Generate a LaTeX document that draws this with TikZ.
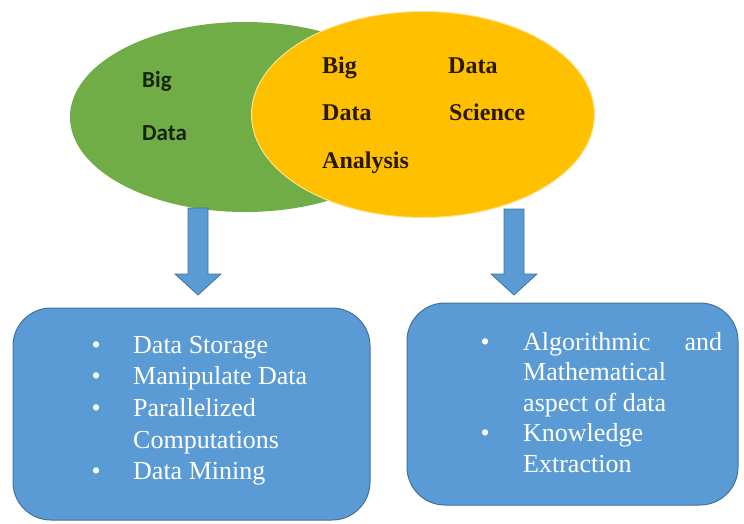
\documentclass[tikz,border=0pt]{standalone}
\usepackage{fontspec}
\setmainfont{Liberation Serif}
\newfontfamily\calibrifont{Carlito}
\usetikzlibrary{shapes.geometric,calc}

\definecolor{vgreen}{RGB}{112,173,71}
\definecolor{vorange}{RGB}{255,192,0}
\definecolor{orangerim}{RGB}{255,226,140}
\definecolor{panelblue}{RGB}{91,155,213}
\definecolor{edgeblue}{RGB}{65,113,156}
\definecolor{gink}{RGB}{22,36,12}
\definecolor{oink}{RGB}{40,24,4}

% block arrow pointing down, from tail (#1) to tip (#2)
\newcommand\blockarrow[2]{%
  \draw[blocky] ($(#1)+(-10,0)$) -- ($(#1)+(10,0)$) -- ($(#2)+(10,-21)$)
    -- ($(#2)+(23,-21)$) -- (#2) -- ($(#2)+(-23,-21)$) -- ($(#2)+(-10,-21)$) -- cycle;}

\begin{document}
\begin{tikzpicture}[x=1pt,y=-1pt,
  blob/.style={ellipse, inner sep=0pt},
  panel/.style={rectangle, rounded corners=38pt, fill=panelblue, draw=edgeblue,
    line width=1pt, inner sep=0pt},
  blocky/.style={fill=panelblue, draw=edgeblue, line width=0.8pt, line join=miter},
  gtext/.style={anchor=base west, inner sep=0pt, text=gink,
    font=\calibrifont\fontsize{23}{27}\selectfont\bfseries},
  otext/.style={anchor=base west, inner sep=0pt, text=oink,
    font=\fontsize{24}{28}\selectfont\bfseries},
  listtext/.style={anchor=base west, inner sep=0pt, text=white, align=left}
]
\useasboundingbox (0,0) rectangle (744,523);

% overlapping ellipses
\node[blob, fill=vgreen, minimum width=350pt, minimum height=190pt] (bigdata) at (245,117) {};
\node[blob, fill=vorange, draw=orangerim, line width=1pt,
  minimum width=343pt, minimum height=206pt] (datasci) at (423,114.5) {};

% ellipse labels
\node[gtext] (gbig)  at (142,87)  {Big};
\node[gtext] (gdata) at (142,140) {Data};
\node[otext] (obig)  at (322,73)  {Big};
\node[otext] (odata) at (448,73)  {Data};
\node[otext] (odat2) at (322,120) {Data};
\node[otext] (osci)  at (449,120) {Science};
\node[otext] (oana)  at (322,168) {Analysis};

% down arrows
\coordinate (ltail) at (198,208);
\coordinate (ltip)  at (198,295);
\coordinate (rtail) at (514,209);
\coordinate (rtip)  at (514,295);
\blockarrow{ltail}{ltip}
\blockarrow{rtail}{rtip}

% rounded panels
\node[panel, minimum width=357pt, minimum height=212pt] (storebox) at (191.5,414) {};
\node[panel, minimum width=331pt, minimum height=202pt] (mathbox) at (572.5,404) {};

% panel contents
\node[listtext, font=\fontsize{26}{31.7}\selectfont] (storelist) at (91.5,353) {%
  \begin{tabular}[t]{@{}l@{}l@{}}
    \makebox[41.5pt][l]{\textbullet} & Data Storage\\
    \makebox[41.5pt][l]{\textbullet} & Manipulate Data\\
    \makebox[41.5pt][l]{\textbullet} & Parallelized\\
    & Computations\\
    \makebox[41.5pt][l]{\textbullet} & Data Mining
  \end{tabular}};
\node[listtext, font=\fontsize{26}{30.5}\selectfont] (mathlist) at (480.5,350) {%
  \begin{tabular}[t]{@{}l@{}l@{}}
    \makebox[42.5pt][l]{\textbullet} & \makebox[199pt][s]{Algorithmic\hfill and}\\
    & Mathematical\\
    & aspect of data\\
    \makebox[42.5pt][l]{\textbullet} & Knowledge\\
    & Extraction
  \end{tabular}};
\end{tikzpicture}
\end{document}
